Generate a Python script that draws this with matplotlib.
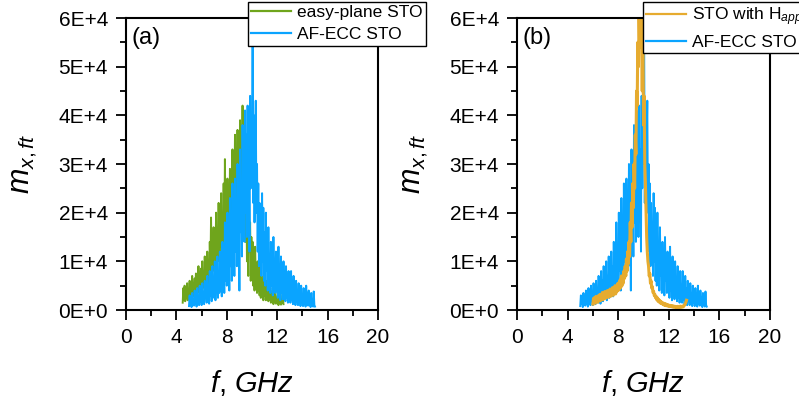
import numpy as np
import matplotlib
matplotlib.use("Agg")
import matplotlib.pyplot as plt
from matplotlib.ticker import MultipleLocator, FuncFormatter

plt.rcParams['font.family'] = ['Liberation Sans', 'DejaVu Sans']
plt.rcParams['mathtext.fontset'] = 'custom'
plt.rcParams['mathtext.it'] = 'Liberation Sans:italic'
plt.rcParams['mathtext.rm'] = 'Liberation Sans'

# Fourier amplitude spectra of m_x, values in units of 1E+3, sampled every 0.05 GHz
step = 0.05

easy_plane_f0 = 4.5
easy_plane = [
    1.5, 4.5, 2, 5, 1.8, 3.5, 2.5, 5.5, 2, 4,
    3, 6, 2.5, 5, 3.5, 7, 2.8, 5.5, 4, 6.5,
    3, 7.5, 4, 6, 3.5, 9, 4.5, 7, 5, 8.5,
    4, 10, 5.5, 8, 4.5, 11, 6, 9, 5, 12,
    7, 10, 5.5, 14, 8, 19, 7, 12, 9, 17,
    8, 13, 10, 20, 9, 15, 11, 22, 10, 16,
    13, 24, 12, 18, 14, 26, 12, 31, 15, 22,
    16, 27, 14, 21, 18, 29, 15, 24, 19, 33,
    17, 28, 20, 36, 18, 30, 22, 37, 20, 33,
    24, 39, 21, 34, 26, 42, 23, 36, 19, 31,
    14, 27, 10, 22, 7, 25, 12, 18, 6, 15,
    9, 14, 5, 11, 4, 13, 6, 9, 3.5, 10,
    4, 8, 3, 9, 2.5, 7, 3.5, 6, 2, 7.5,
    3, 5.5, 2, 6, 2.5, 4.5, 1.8, 5, 2.2, 4,
    1.5, 3.5, 2, 4.5, 1.2, 3, 1.8, 3.8, 1.3, 2.5,
    1.5, 3, 1, 2.5, 1.6, 3.2, 1.1, 2.2, 1.4, 2.8,
    1.2,
]

af_ecc_f0 = 5.0
af_ecc = [
    0.8, 3, 1.2, 2.5, 0.6, 3.5, 1, 2.2, 0.9, 4,
    1.3, 3, 0.7, 4.5, 1.5, 2.8, 1, 5, 1.8, 3.5,
    1, 5.5, 2, 3.5, 1.2, 6, 2.5, 4, 1.5, 7,
    2.2, 5, 1.3, 8, 3, 6, 1.8, 9, 2.5, 6.5,
    3, 10, 2, 7, 4, 11, 2.5, 8, 3.5, 12,
    4, 9, 2.8, 14, 5, 10, 3.5, 18, 6, 12,
    5, 20, 8, 14, 4, 23, 9, 17, 6, 26,
    10, 19, 7, 27, 12, 22, 9, 30, 14, 24,
    4, 33, 16, 26, 11, 38, 18, 30, 14, 41,
    20, 36, 15, 42, 22, 33, 12, 44, 25, 38,
    30, 57, 22, 40, 18, 35, 43, 20, 30, 12,
    26, 9, 22, 13, 18, 7, 24, 10, 21, 6,
    16, 5, 20, 8, 13, 4, 17, 7, 11, 3.5,
    14, 5, 10, 3, 15, 6, 9, 3.5, 12, 4,
    9, 2.5, 13, 4, 8, 2, 11, 3.5, 7, 2.2,
    10, 3, 6, 1.8, 9, 2.5, 7, 1.5, 8, 3,
    5, 1.5, 8, 2.2, 6, 1.2, 7, 2, 4.5, 1,
    6, 1.8, 4, 1, 5.5, 2, 3.5, 0.8, 5, 1.5,
    3, 0.8, 4.5, 1.4, 2.5, 0.7, 5, 1.2, 3.5, 0.9,
    4, 1, 2.5, 0.6, 3.5, 1.1, 2, 0.7, 3.8, 1,
    0.7,
]

happ_f0 = 6.0
happ = [
    1.2, 2.4, 1.5, 2.6, 1.4, 2.8, 1.8, 2.5, 1.6, 3,
    2, 3.2, 1.9, 2.9, 2.3, 3.6, 2.1, 3.3, 2.5, 3.8,
    2.4, 3.5, 2.7, 4, 2.6, 3.7, 3, 4.3, 2.8, 4,
    3.2, 4.6, 3, 4.4, 3.5, 5, 3.3, 4.8, 3.8, 5.4,
    4, 5.6, 4.3, 6.2, 4.6, 7, 5, 6.5, 5.5, 8,
    6.5, 9, 7, 10.5, 8, 12, 9.5, 14, 11, 18,
    14, 22, 17, 26, 21, 30, 25, 36, 32, 45,
    42, 55, 50, 60, 54, 60, 58, 60, 45, 60,
    38, 44, 30, 26, 20, 15, 12, 10, 9, 7,
    7.5, 5.5, 6, 4.5, 4.8, 3.6, 3.8, 3, 3.2, 2.5,
    2.8, 2.1, 2.5, 1.8, 2.2, 1.6, 1.9, 1.4, 1.7, 1.3,
    1.5, 1.1, 1.4, 1, 1.3, 0.9, 1.2, 0.85, 1.1, 0.8,
    1, 0.75, 0.95, 0.7, 0.9, 0.65, 0.85, 0.6, 0.8, 0.6,
    0.75, 0.55, 0.7, 0.55, 0.75, 0.5, 0.7, 0.55, 0.8, 0.6,
    0.75, 0.6, 0.8, 0.65, 0.9, 1, 1.3, 1.6, 2,
]

GREEN = '#6fa51c'
BLUE = '#0aa4ff'
ORANGE = '#e6ab2f'


def freq(f0, vals):
    return f0 + step * np.arange(len(vals))


def amp(vals):
    return np.asarray(vals) * 1e3


fig = plt.figure(figsize=(7.99, 4.0), dpi=100)
ax_a = fig.add_axes([126 / 799, 90 / 400, 252 / 799, 292 / 400])
ax_b = fig.add_axes([517 / 799, 90 / 400, 253 / 799, 292 / 400])

ax_a.plot(freq(easy_plane_f0, easy_plane), amp(easy_plane), color=GREEN, lw=1.4,
          label='easy-plane STO')
ax_a.plot(freq(af_ecc_f0, af_ecc), amp(af_ecc), color=BLUE, lw=1.4,
          label='AF-ECC STO')

ax_b.plot(freq(happ_f0, happ), amp(happ), color=ORANGE, lw=2.2,
          label='STO with H$_{app}$')
ax_b.plot(freq(af_ecc_f0, af_ecc), amp(af_ecc), color=BLUE, lw=1.4,
          label='AF-ECC STO', zorder=1.9)

ytick_fmt = FuncFormatter(lambda v, p: '0E+0' if v == 0 else f'{int(round(v / 1e4))}E+4')

for ax, tag in ((ax_a, '(a)'), (ax_b, '(b)')):
    ax.set_xlim(0, 20)
    ax.set_ylim(0, 6e4)
    ax.xaxis.set_major_locator(MultipleLocator(4))
    ax.xaxis.set_minor_locator(MultipleLocator(2))
    ax.yaxis.set_major_locator(MultipleLocator(1e4))
    ax.yaxis.set_minor_locator(MultipleLocator(5e3))
    ax.yaxis.set_major_formatter(ytick_fmt)
    ax.tick_params(which='both', direction='out', width=1.3, top=False, right=False)
    ax.tick_params(which='major', length=7, labelsize=15, pad=6)
    ax.tick_params(which='minor', length=4)
    for s in ax.spines.values():
        s.set_linewidth(1.5)
    ax.set_xlabel('$f$, $GHz$', fontsize=21)
    ax.set_ylabel('$m_{x,ft}$', fontsize=22)
    ax.xaxis.set_label_coords(0.5, -0.2)
    ax.yaxis.set_label_coords(-0.345, 0.5)
    ax.text(0.022, 0.93, tag, transform=ax.transAxes, fontsize=17, va='center', ha='left')

leg_kw = dict(loc='upper left', fontsize=12.5, frameon=True, fancybox=False,
              edgecolor='black', framealpha=1, handlelength=2.3, handletextpad=0.3,
              borderpad=0.2, labelspacing=0.4, borderaxespad=0)
leg_a = ax_a.legend(bbox_to_anchor=(122 / 252, 1.056), **leg_kw)
leg_b = ax_b.legend(bbox_to_anchor=(126 / 253, 1.056), **leg_kw)
for leg in (leg_a, leg_b):
    leg.get_frame().set_linewidth(1.0)
    for h in leg.get_lines():
        h.set_linewidth(1.6)

fig.savefig('out.png', dpi=100)
